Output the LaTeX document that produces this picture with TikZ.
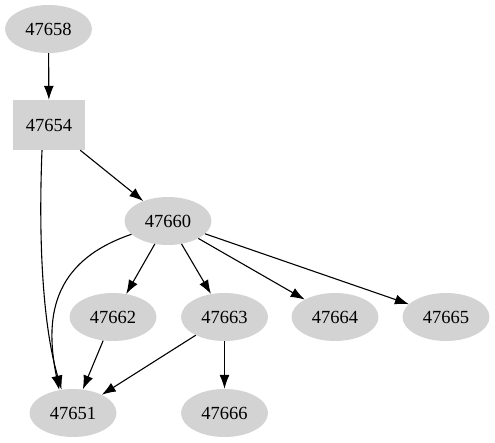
\documentclass[tikz,border=0pt]{standalone}
\usepackage{fontspec}
\setmainfont{Liberation Serif}
\usetikzlibrary{arrows.meta,shapes.geometric}
\definecolor{nodegray}{RGB}{211,211,211}
\tikzset{
  ell/.style={ellipse,fill=nodegray,draw=none,minimum width=87pt,minimum height=48pt,inner sep=0pt,font=\fontsize{18.5}{20}\selectfont},
  boxnode/.style={rectangle,fill=nodegray,draw=none,minimum width=72pt,minimum height=50pt,inner sep=0pt,font=\fontsize{18.5}{20}\selectfont},
  edge/.style={line width=1.1pt,-{Latex[length=14pt,width=10pt]}}
}
\begin{document}
\begin{tikzpicture}[x=1pt,y=-1pt]
\useasboundingbox (0,0) rectangle (495,443);
\node[ell] (n58) at (48.5,29) {47658};
\node[boxnode] (n54) at (49,125) {47654};
\node[ell] (n60) at (168,221) {47660};
\node[ell] (n62) at (113,317) {47662};
\node[ell] (n63) at (224.5,317) {47663};
\node[ell] (n64) at (335,317) {47664};
\node[ell] (n65) at (446,317) {47665};
\node[ell] (n51) at (73,413) {47651};
\node[ell] (n66) at (224.5,413) {47666};
\draw[edge] (n58) -- (n54);
\draw[edge] (n54) -- (n60);
\draw[edge] ([xshift=-7pt]n54.south) .. controls (38,250) and (44,330) .. (n51.116);
\draw[edge] (n60.200) .. controls (50,262) and (45,320) .. (n51.121);
\draw[edge] (n60) -- (n62);
\draw[edge] (n60) -- (n63);
\draw[edge] (n60) -- (n64);
\draw[edge] (n60) -- (n65);
\draw[edge] (n62) -- (n51);
\draw[edge] (n63) -- (n51);
\draw[edge] (n63) -- (n66);
\end{tikzpicture}
\end{document}
